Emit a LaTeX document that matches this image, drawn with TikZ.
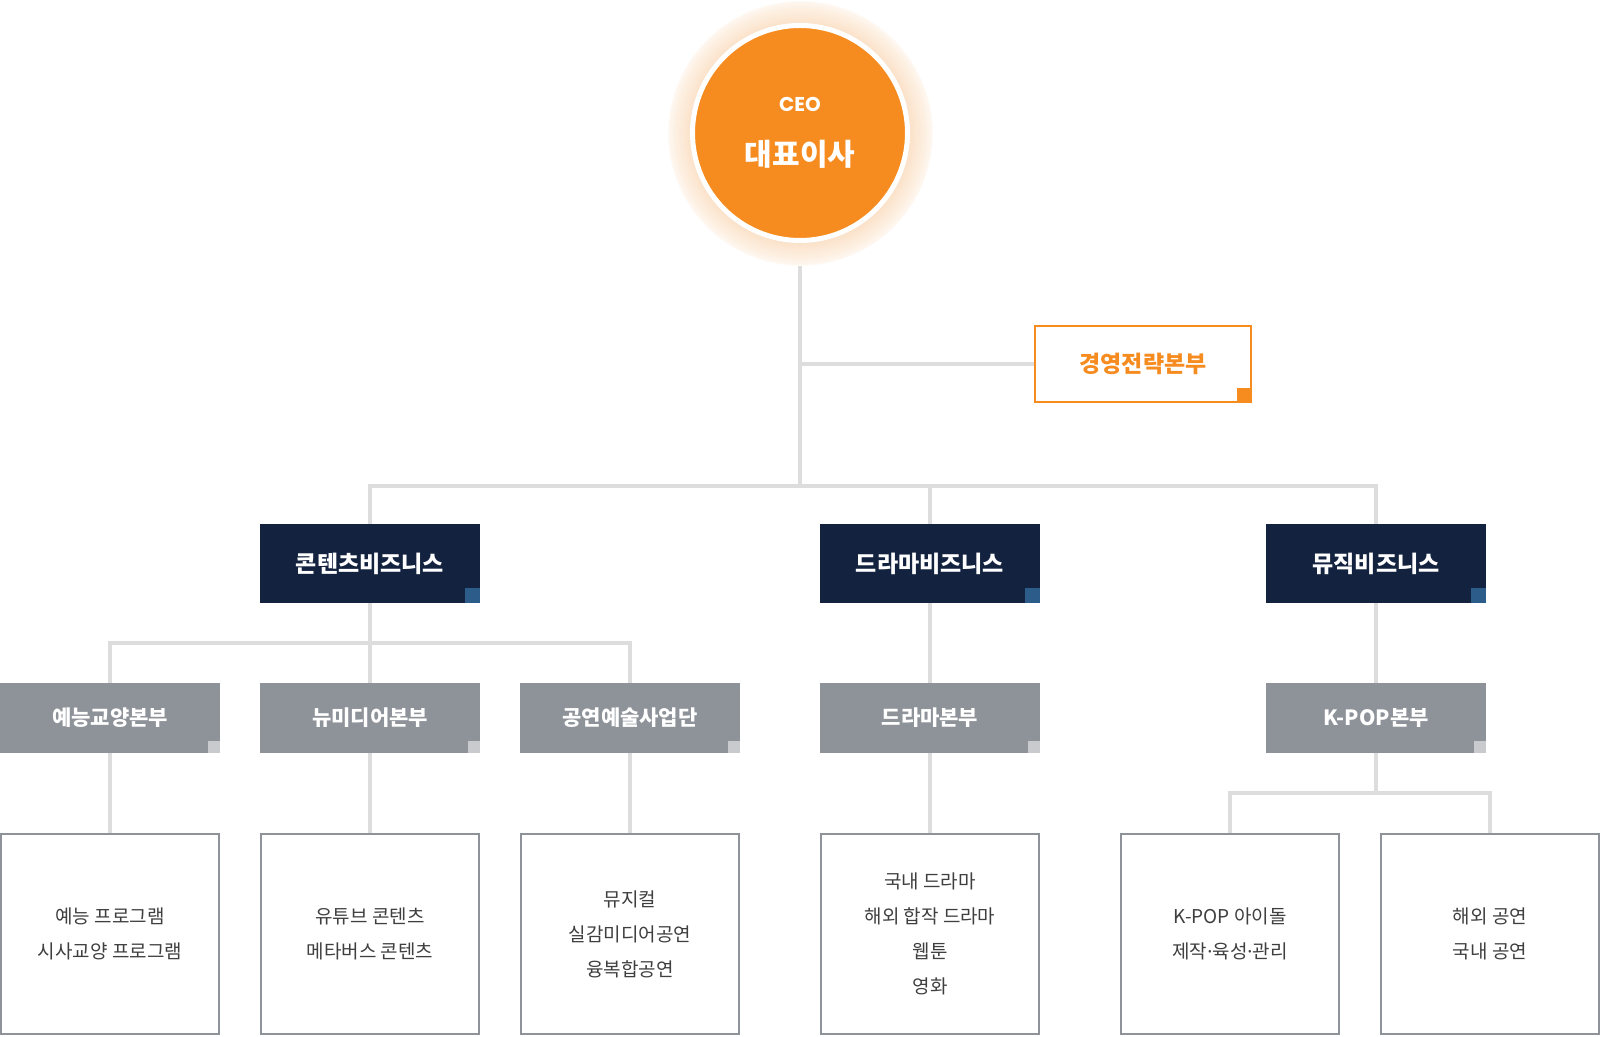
\documentclass[tikz,border=0pt]{standalone}
\usepackage{fontspec}
\setmainfont{Noto Sans CJK KR}
\newfontfamily\ceofont{Poppins}
\newfontfamily\latinfont{Noto Sans}
\usepackage{tikz}
\pgfdeclarelayer{bg}
\pgfsetlayers{bg,main}
\definecolor{orng}{HTML}{F68B1F}
\definecolor{navy}{HTML}{12223F}
\definecolor{navysq}{HTML}{2B5C8A}
\definecolor{boxgray}{HTML}{8E9299}
\definecolor{sqgray}{HTML}{C8CACD}
\definecolor{linegray}{HTML}{DDDDDD}
\definecolor{textgray}{HTML}{3F3F3F}
\definecolor{glowa}{HTML}{FBE2CA}
\definecolor{glowb}{HTML}{FDF0E2}
\definecolor{glowc}{HTML}{FEF7F0}
\pgfdeclareradialshading{glow}{\pgfpoint{0bp}{0bp}}{color(0bp)=(glowa); color(20.7bp)=(glowa); color(23.5bp)=(glowb); color(24.7bp)=(glowc); color(25bp)=(white); color(50bp)=(white)}
\newcommand{\mdot}{{\latinfont ·}}
\tikzset{
    every node/.style={rectangle, inner sep=0mm, text=white}
}
\tikzset{
    link/.style={draw=linegray, line width=4.5pt},
    corner/.style 2 args={path picture={\fill[#1] (path picture bounding box.south east) rectangle ++(-#2,#2);}},
    topbox/.style={fill=navy, minimum width=220pt, minimum height=79pt, corner={navysq}{15pt}, font=\bfseries\fontsize{23pt}{23pt}\selectfont},
    midbox/.style={fill=boxgray, minimum width=220pt, minimum height=70pt, corner={sqgray}{12pt}, font=\bfseries\fontsize{21pt}{21pt}\selectfont},
    leafbox/.style={draw=boxgray, fill=white, line width=2pt, minimum width=218pt, minimum height=200pt, text=textgray, align=center, font=\fontsize{19pt}{35pt}\selectfont}
}

\begin{document}
\begin{tikzpicture}
        \useasboundingbox (0pt, 0pt) rectangle (1600pt, 1036pt);
        \node (c0) [circle, fill=orng, draw=white, line width=5pt, minimum size=215pt, align=center] at (800pt, 903pt) {{\ceofont\bfseries\fontsize{20pt}{20pt}\selectfont CEO}\\[28pt]{\bfseries\fontsize{30pt}{30pt}\selectfont 대표이사}};
        \node (m0) [draw=orng, fill=white, line width=2pt, minimum width=216pt, minimum height=76pt, corner={orng}{14pt}, text=orng, font=\bfseries\fontsize{23pt}{23pt}\selectfont] at (1143pt, 672pt) {경영전략본부};
        \node (b1) [topbox] at (370pt, 472.5pt) {콘텐츠비즈니스};
        \node (b2) [topbox] at (930pt, 472.5pt) {드라마비즈니스};
        \node (b3) [topbox] at (1376pt, 472.5pt) {뮤직비즈니스};
        \node (d1) [midbox] at (110pt, 318pt) {예능교양본부};
        \node (d2) [midbox] at (370pt, 318pt) {뉴미디어본부};
        \node (d3) [midbox] at (630pt, 318pt) {공연예술사업단};
        \node (d4) [midbox] at (930pt, 318pt) {드라마본부};
        \node (d5) [midbox] at (1376pt, 318pt) {K-POP본부};
        \node (t1) [leafbox] at (110pt, 102pt) {예능 프로그램\\시사교양 프로그램};
        \node (t2) [leafbox] at (370pt, 102pt) {유튜브 콘텐츠\\메타버스 콘텐츠};
        \node (t3) [leafbox] at (630pt, 102pt) {뮤지컬\\실감미디어공연\\융복합공연};
        \node (t4) [leafbox] at (930pt, 102pt) {국내 드라마\\해외 합작 드라마\\웹툰\\영화};
        \node (t5) [leafbox] at (1230pt, 102pt) {K-POP 아이돌\\제작\mdot 육성\mdot 관리};
        \node (t6) [leafbox] at (1490pt, 102pt) {해외 공연\\국내 공연};
        \coordinate (j0) at (800pt, 550pt);
        \coordinate (j1) at (800pt, 672pt);
        \coordinate (j2) at (370pt, 393pt);
        \coordinate (j3) at (1376pt, 243pt);
        \begin{pgfonlayer}{bg}
                \draw [link] (c0.center) -- (j0);
                \draw [link] (j1) -- (m0.west);
                \draw [link] (b1.north) |- (j0) -| (b3.north);
                \draw [link] (b2.north) |- (j0);
                \draw [link] (b1.south) -- (d2.north);
                \draw [link] (d1.north) |- (j2) -| (d3.north);
                \draw [link] (b2.south) -- (d4.north);
                \draw [link] (b3.south) -- (d5.north);
                \draw [link] (d1.south) -- (t1.north);
                \draw [link] (d2.south) -- (t2.north);
                \draw [link] (d3.south) -- (t3.north);
                \draw [link] (d4.south) -- (t4.north);
                \draw [link] (d5.south) -- (j3);
                \draw [link] (t5.north) |- (j3) -| (t6.north);
                \shade [shading=glow] (c0.center) circle (133pt);
        \end{pgfonlayer}
\end{tikzpicture}
\end{document}
